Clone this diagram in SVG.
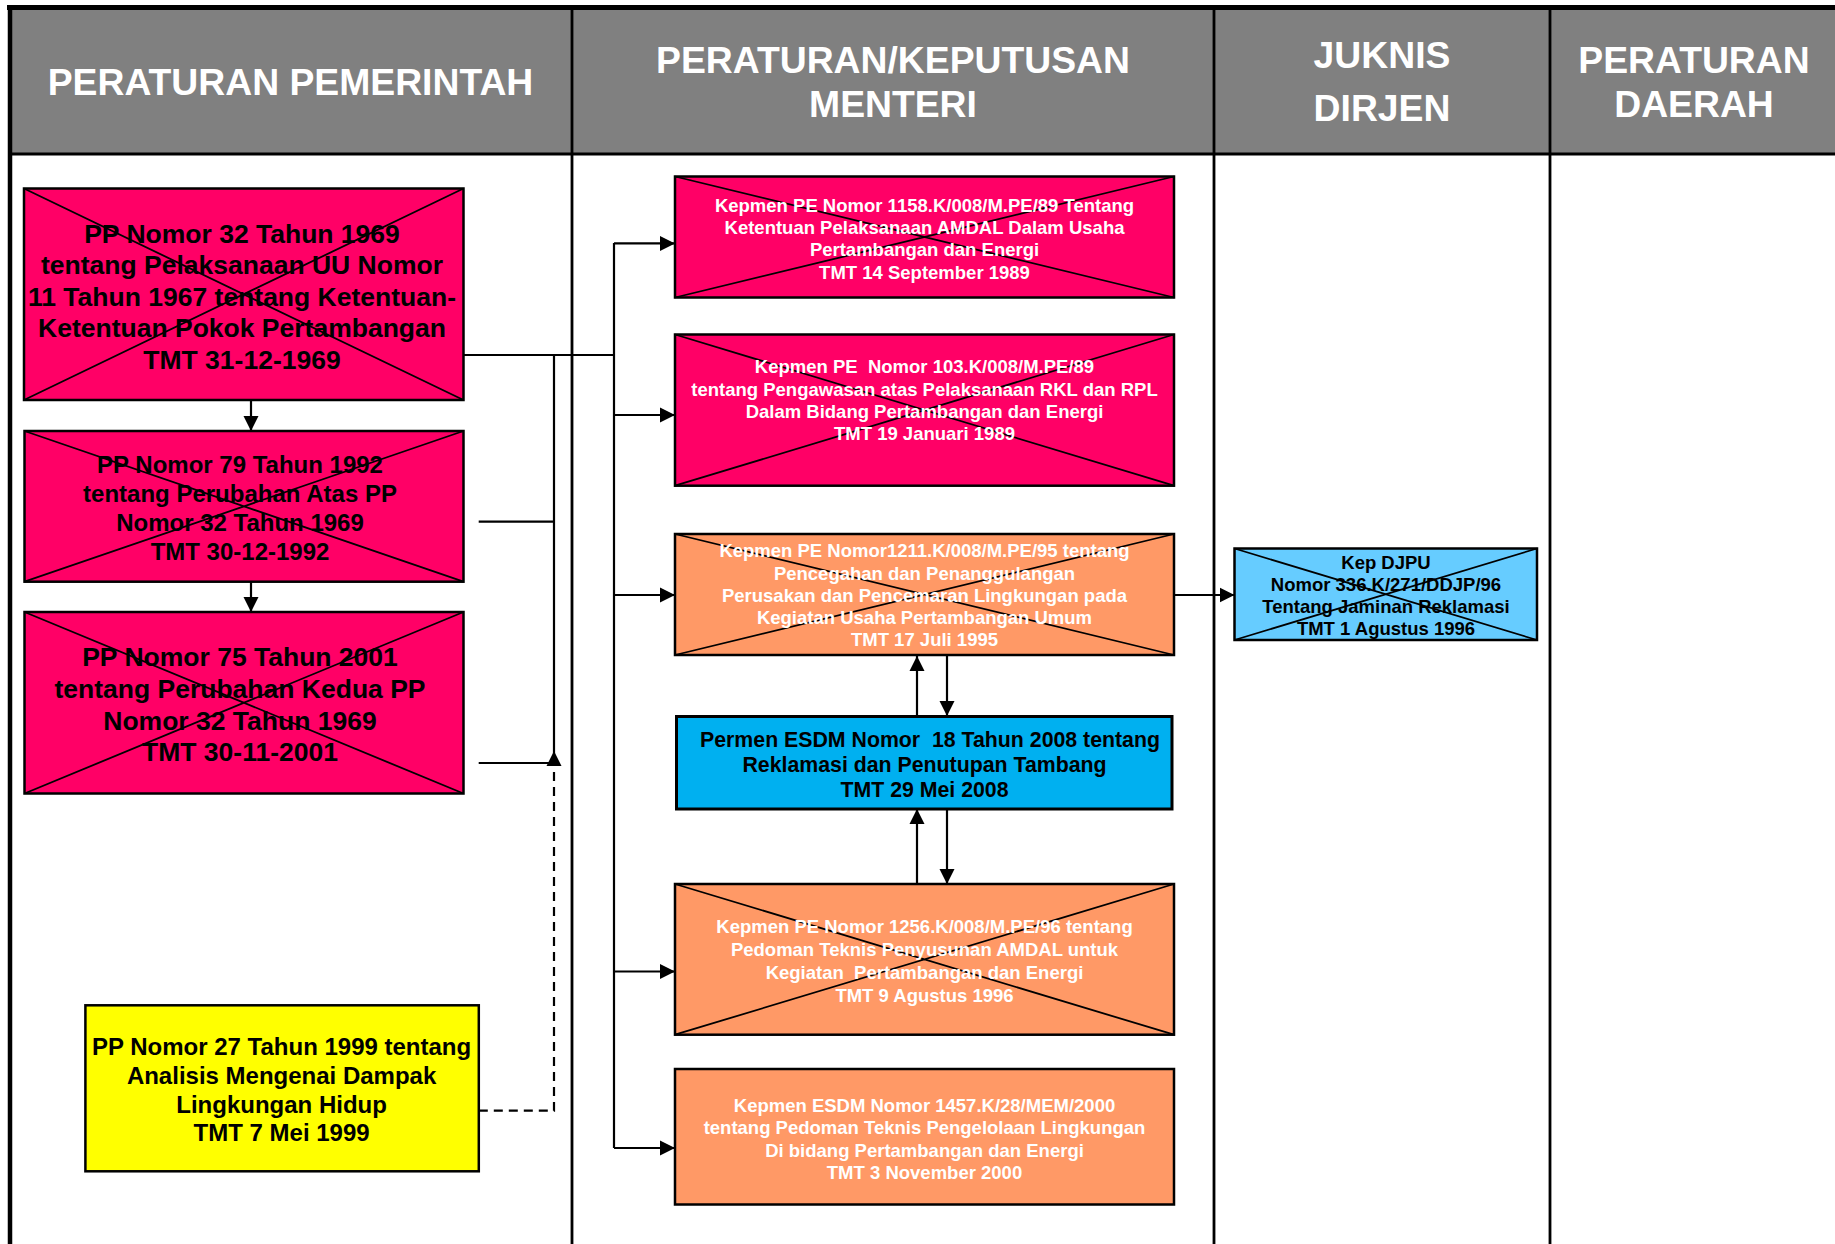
<svg xmlns="http://www.w3.org/2000/svg" width="1835" height="1244" viewBox="0 0 1835 1244">
<style>
.hdr{font-family:"Liberation Sans",Arial,sans-serif;font-weight:bold;font-size:37.3px;fill:#fff;text-anchor:middle}
.t{font-family:"Liberation Sans",Arial,sans-serif;font-weight:bold;text-anchor:middle}
.blk{fill:#000}
.wht{fill:#fff}
.f26{font-size:26.5px}
.f24{font-size:24px}
.f21{font-size:21.3px}
.f18{font-size:18.5px}
.box{stroke:#000;stroke-width:2.5}
.x{stroke:#000;stroke-width:1.8;fill:none}
.grid{stroke:#000;stroke-width:2.8;fill:none}
.conn{stroke:#000;stroke-width:2.2;fill:none}
.dash{stroke:#000;stroke-width:2.2;fill:none;stroke-dasharray:9 6}
.pink{fill:#FF0066}
.orange{fill:#FF9966}
.blue{fill:#00B0F0}
.lblue{fill:#66CCFF}
.yellow{fill:#FFFF00}
</style>
<defs>
<marker id="ah" markerUnits="userSpaceOnUse" markerWidth="16" markerHeight="16" viewBox="0 0 16 16" refX="15" refY="8" orient="auto">
<path d="M0,0.5 L15,8 L0,15.5 z" fill="#000"/>
</marker>
</defs>
<rect x="0" y="0" width="1835" height="1244" fill="#fff"/>
<g id="frame">
<rect x="9" y="7" width="1826" height="147" fill="#808080"/>
<line x1="7" y1="7.5" x2="1835" y2="7.5" stroke="#000" stroke-width="5"/>
<line x1="9" y1="154" x2="1835" y2="154" class="grid"/>
<line x1="10" y1="5" x2="10" y2="1244" stroke="#000" stroke-width="4.5"/>
<line x1="572" y1="5" x2="572" y2="1244" class="grid"/>
<line x1="1214" y1="5" x2="1214" y2="1244" class="grid"/>
<line x1="1550" y1="5" x2="1550" y2="1244" class="grid"/>
<text class="hdr" x="290.5" y="95">PERATURAN PEMERINTAH</text>
<text class="hdr" x="893" y="72.5">PERATURAN/KEPUTUSAN</text>
<text class="hdr" x="893" y="117.3">MENTERI</text>
<text class="hdr" x="1382" y="68.3">JUKNIS</text>
<text class="hdr" x="1382" y="121.3">DIRJEN</text>
<text class="hdr" x="1694" y="72.5">PERATURAN</text>
<text class="hdr" x="1694" y="117.3">DAERAH</text>
</g>
<g id="connectors">
<path class="conn" d="M251,400 V431" marker-end="url(#ah)"/>
<path class="conn" d="M251,581.7 V612" marker-end="url(#ah)"/>
<path class="conn" d="M463.5,355 H614"/>
<path class="conn" d="M614,243 V1148"/>
<path class="conn" d="M614,243.4 H675" marker-end="url(#ah)"/>
<path class="conn" d="M614,415 H675" marker-end="url(#ah)"/>
<path class="conn" d="M614,595 H675" marker-end="url(#ah)"/>
<path class="conn" d="M614,971.5 H675" marker-end="url(#ah)"/>
<path class="conn" d="M614,1148 H675" marker-end="url(#ah)"/>
<path class="conn" d="M554,355 V763"/>
<path class="conn" d="M478.7,521.7 H554"/>
<path class="conn" d="M478.7,763 H554"/>
<path class="dash" d="M478.8,1110.7 H554 V751" marker-end="url(#ah)"/>
<path class="conn" d="M917,716 V656" marker-end="url(#ah)"/>
<path class="conn" d="M947,656 V716" marker-end="url(#ah)"/>
<path class="conn" d="M917,884 V809" marker-end="url(#ah)"/>
<path class="conn" d="M947,809 V884" marker-end="url(#ah)"/>
<path class="conn" d="M1174,595 H1234.5" marker-end="url(#ah)"/>
</g>
<g id="pp32">
<rect class="box pink" x="24" y="188.5" width="439.5" height="211.5"/>
<path class="x" d="M24,188.5 L463.5,400 M463.5,188.5 L24,400"/>
<text class="t blk f26"><tspan x="242" y="243">PP Nomor 32 Tahun 1969</tspan><tspan x="242" y="274.4">tentang Pelaksanaan UU Nomor</tspan><tspan x="242" y="305.8">11 Tahun 1967 tentang Ketentuan-</tspan><tspan x="242" y="337.2">Ketentuan Pokok Pertambangan</tspan><tspan x="242" y="368.6">TMT 31-12-1969</tspan></text>
</g>
<g id="pp79">
<rect class="box pink" x="24.5" y="431" width="439" height="150.7"/>
<path class="x" d="M24.5,431 L463.5,581.7 M463.5,431 L24.5,581.7"/>
<text class="t blk f24"><tspan x="240" y="472.6">PP Nomor 79 Tahun 1992</tspan><tspan x="240" y="501.8">tentang Perubahan Atas PP</tspan><tspan x="240" y="531">Nomor 32 Tahun 1969</tspan><tspan x="240" y="559.6">TMT 30-12-1992</tspan></text>
</g>
<g id="pp75">
<rect class="box pink" x="24.5" y="612" width="439" height="181.5"/>
<path class="x" d="M24.5,612 L463.5,793.5 M463.5,612 L24.5,793.5"/>
<text class="t blk f26"><tspan x="240" y="666.2">PP Nomor 75 Tahun 2001</tspan><tspan x="240" y="697.8">tentang Perubahan Kedua PP</tspan><tspan x="240" y="729.5">Nomor 32 Tahun 1969</tspan><tspan x="240" y="761.2">TMT 30-11-2001</tspan></text>
</g>
<g id="pp27">
<rect class="box yellow" x="85.4" y="1005.3" width="393.4" height="166"/>
<text class="t blk f24"><tspan x="281.6" y="1055.3">PP Nomor 27 Tahun 1999 tentang</tspan><tspan x="281.6" y="1084.2">Analisis Mengenai Dampak</tspan><tspan x="281.6" y="1112.8">Lingkungan Hidup</tspan><tspan x="281.6" y="1141.3">TMT 7 Mei 1999</tspan></text>
</g>
<g id="kepmen1158">
<rect class="box pink" x="675" y="176.5" width="499" height="121"/>
<path class="x" d="M675,176.5 L1174,297.5 M1174,176.5 L675,297.5"/>
<text class="t wht f18"><tspan x="924.5" y="211.7">Kepmen PE Nomor 1158.K/008/M.PE/89 Tentang</tspan><tspan x="924.5" y="234">Ketentuan Pelaksanaan AMDAL Dalam Usaha</tspan><tspan x="924.5" y="256.3">Pertambangan dan Energi</tspan><tspan x="924.5" y="278.6">TMT 14 September 1989</tspan></text>
</g>
<g id="kepmen103">
<rect class="box pink" x="675" y="334.5" width="499" height="151.2"/>
<path class="x" d="M675,334.5 L1174,485.7 M1174,334.5 L675,485.7"/>
<text class="t wht f18" xml:space="preserve"><tspan x="924.5" y="373.4">Kepmen PE  Nomor 103.K/008/M.PE/89</tspan><tspan x="924.5" y="395.7">tentang Pengawasan atas Pelaksanaan RKL dan RPL</tspan><tspan x="924.5" y="418.2">Dalam Bidang Pertambangan dan Energi</tspan><tspan x="924.5" y="440.2">TMT 19 Januari 1989</tspan></text>
</g>
<g id="kepmen1211">
<rect class="box orange" x="675" y="534" width="499" height="121"/>
<path class="x" d="M675,534 L1174,655 M1174,534 L675,655"/>
<text class="t wht f18"><tspan x="924.5" y="557.4">Kepmen PE Nomor1211.K/008/M.PE/95 tentang</tspan><tspan x="924.5" y="579.6">Pencegahan dan Penanggulangan</tspan><tspan x="924.5" y="602.2">Perusakan dan Pencemaran Lingkungan pada</tspan><tspan x="924.5" y="624.2">Kegiatan Usaha Pertambangan Umum</tspan><tspan x="924.5" y="646">TMT 17 Juli 1995</tspan></text>
</g>
<g id="permen18">
<rect class="blue" x="676.5" y="716.5" width="495.5" height="92.5" stroke="#000" stroke-width="3"/>
<text class="t blk f21" xml:space="preserve"><tspan x="930" y="746.9">Permen ESDM Nomor  18 Tahun 2008 tentang</tspan><tspan x="924.5" y="772.4">Reklamasi dan Penutupan Tambang</tspan><tspan x="924.5" y="797">TMT 29 Mei 2008</tspan></text>
</g>
<g id="kepmen1256">
<rect class="box orange" x="675" y="884" width="499" height="150.7"/>
<path class="x" d="M675,884 L1174,1034.7 M1174,884 L675,1034.7"/>
<text class="t wht f18" xml:space="preserve"><tspan x="924.5" y="933.4">Kepmen PE Nomor 1256.K/008/M.PE/96 tentang</tspan><tspan x="924.5" y="956.4">Pedoman Teknis Penyusunan AMDAL untuk</tspan><tspan x="924.5" y="978.6">Kegiatan  Pertambangan dan Energi</tspan><tspan x="924.5" y="1001.6">TMT 9 Agustus 1996</tspan></text>
</g>
<g id="kepmen1457">
<rect class="box orange" x="675" y="1069" width="499" height="135.5"/>
<text class="t wht f18"><tspan x="924.5" y="1111.7">Kepmen ESDM Nomor 1457.K/28/MEM/2000</tspan><tspan x="924.5" y="1134.2">tentang Pedoman Teknis Pengelolaan Lingkungan</tspan><tspan x="924.5" y="1156.6">Di bidang Pertambangan dan Energi</tspan><tspan x="924.5" y="1178.6">TMT 3 November 2000</tspan></text>
</g>
<g id="kepdjpu">
<rect class="box lblue" x="1234.5" y="548.5" width="302.5" height="91.5"/>
<path class="x" d="M1234.5,548.5 L1537,640 M1537,548.5 L1234.5,640"/>
<text class="t blk f18"><tspan x="1386" y="569">Kep DJPU</tspan><tspan x="1386" y="591">Nomor 336.K/271/DDJP/96</tspan><tspan x="1386" y="613.3">Tentang Jaminan Reklamasi</tspan><tspan x="1386" y="635.3">TMT 1 Agustus 1996</tspan></text>
</g>
</svg>
